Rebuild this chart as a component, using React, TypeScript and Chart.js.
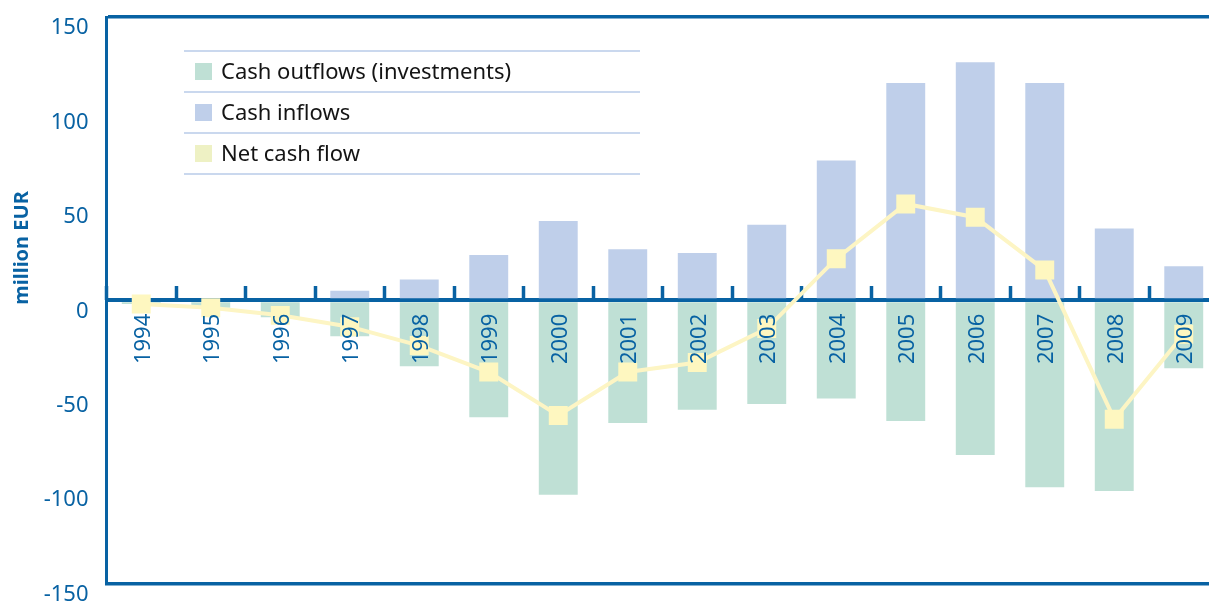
import React, { useEffect, useRef } from "react";
import { Chart, registerables } from "chart.js";

Chart.register(...registerables);

const categories = ["1994", "1995", "1996", "1997", "1998", "1999", "2000", "2001", "2002", "2003", "2004", "2005", "2006", "2007", "2008", "2009"];
const cashOutflows = [-2, -4, -9, -19, -35, -62, -103, -65, -58, -55, -52, -64, -82, -99, -101, -36];
const cashInflows = [0, 0, 1, 5, 11, 24, 42, 27, 25, 40, 74, 115, 126, 115, 38, 18];
const netCashFlow = [-2, -4, -8, -14, -24, -38, -61, -38, -33, -15, 22, 51, 44, 16, -63, -18];
const yMin = -150;
const yMax = 150;
const yStep = 50;
const yTitle = "million EUR";
const seriesLabels = ["Cash outflows (investments)", "Cash inflows", "Net cash flow"];

const BLUE = "#0862a3";
const FONT = "'Noto Sans', sans-serif";
const OUT_COLOR = "#bfe0d5";
const IN_COLOR = "#bfcfea";
const NET_COLOR = "#fef7c0";
const NET_SWATCH = "#eef1c4";

const overlayPlugin = {
  id: "overlay",
  afterDraw(chart: any) {
    const ctx = chart.ctx;
    ctx.save();
    // legend
    const lines = [51, 92, 133, 174];
    ctx.strokeStyle = "#b9cbe9";
    ctx.lineWidth = 1.5;
    lines.forEach((y) => {
      ctx.beginPath();
      ctx.moveTo(184, y);
      ctx.lineTo(640, y);
      ctx.stroke();
    });
    const swatches = [OUT_COLOR, IN_COLOR, NET_SWATCH];
    ctx.font = `22px ${FONT}`;
    ctx.textBaseline = "middle";
    ctx.textAlign = "left";
    seriesLabels.forEach((lab, i) => {
      const cy = (lines[i] + lines[i + 1]) / 2;
      ctx.fillStyle = swatches[i];
      ctx.fillRect(195, cy - 8.5, 17, 17);
      ctx.fillStyle = "#141414";
      ctx.fillText(lab, 221, cy + 1);
    });
    // y title
    ctx.translate(22, 248);
    ctx.rotate(-Math.PI / 2);
    ctx.font = `bold 20px ${FONT}`;
    ctx.fillStyle = BLUE;
    ctx.textAlign = "center";
    ctx.textBaseline = "middle";
    ctx.fillText(yTitle, 0, 0);
    ctx.restore();
  },
};

export default function App() {
  const ref = useRef<HTMLCanvasElement>(null);
  useEffect(() => {
    if (!ref.current) return;
    const chart = new Chart(ref.current, {
      type: "bar",
      data: {
        labels: categories,
        datasets: [
          {
            type: "line",
            label: seriesLabels[2],
            data: netCashFlow,
            borderColor: "#fdf5c4",
            borderWidth: 4,
            backgroundColor: NET_COLOR,
            pointStyle: "rect",
            pointRadius: 13.4,
            pointBorderWidth: 0,
            pointBackgroundColor: NET_COLOR,
            tension: 0,
            order: 0,
          } as any,
          {
            type: "bar",
            label: seriesLabels[0],
            data: cashOutflows,
            backgroundColor: OUT_COLOR,
            barPercentage: 0.56,
            categoryPercentage: 1,
            order: 1,
          },
          {
            type: "bar",
            label: seriesLabels[1],
            data: cashInflows,
            backgroundColor: IN_COLOR,
            barPercentage: 0.56,
            categoryPercentage: 1,
            order: 2,
          },
        ],
      },
      options: {
        animation: false,
        responsive: false,
        layout: { autoPadding: false, padding: { top: 17, bottom: 18.5, left: 0, right: 2.5 } },
        plugins: { legend: { display: false }, tooltip: { enabled: false } },
        scales: {
          x: {
            stacked: true,
            position: { y: 0 } as any,
            border: { display: false },
            grid: {
              display: true,
              offset: true,
              drawOnChartArea: false,
              drawTicks: true,
              tickLength: -14,
              tickWidth: 3.5,
              tickColor: BLUE,
            },
            ticks: {
              z: 1,
              autoSkip: false,
              minRotation: 90,
              maxRotation: 90,
              padding: 27.5,
              labelOffset: 2,
              color: BLUE,
              font: { family: FONT, size: 22 },
            },
            afterFit: (scale: any) => {
              scale.height = 0;
              scale.paddingLeft = 0;
              scale.paddingRight = 0;
              scale.paddingTop = 0;
              scale.paddingBottom = 0;
            },
          } as any,
          y: {
            min: yMin,
            max: yMax,
            border: { display: true, color: BLUE, width: 3 },
            grid: {
              drawTicks: false,
              color: (c: any) => (c.tick && (c.tick.value === 0 || Math.abs(c.tick.value) === 150) ? BLUE : "rgba(0,0,0,0)"),
              lineWidth: (c: any) => (c.tick && c.tick.value === 0 ? 4 : c.tick && Math.abs(c.tick.value) === 150 ? 3.5 : 0),
            },
            ticks: {
              stepSize: yStep,
              padding: 18,
              labelOffset: 11,
              color: BLUE,
              font: { family: FONT, size: 22 },
            },
            afterFit: (scale: any) => {
              scale.width = 106.5;
              scale.paddingLeft = 0;
              scale.paddingRight = 0;
              scale.paddingTop = 0;
              scale.paddingBottom = 0;
            },
          } as any,
        },
      },
      plugins: [overlayPlugin],
    });
    return () => chart.destroy();
  }, []);
  return (
    <div style={{ position: "fixed", left: 0, top: 0, width: 1209, height: 602, overflow: "hidden", background: "#fff" }}>
      <canvas ref={ref} width={1221} height={602} style={{ display: "block", width: 1221, height: 602 }} />
    </div>
  );
}
